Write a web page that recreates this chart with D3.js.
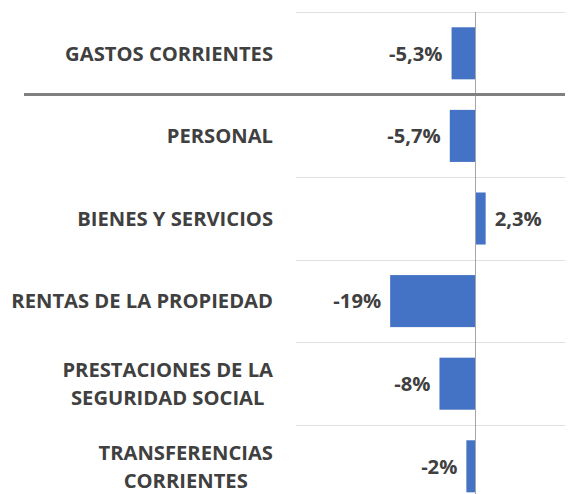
<!DOCTYPE html>
<html>
<head>
<meta charset="utf-8">
<script src="https://cdn.jsdelivr.net/npm/d3@7"></script>
<style>
html,body{margin:0;padding:0;background:#fff;}
svg{display:block;}
</style>
</head>
<body>
<svg id="chart" width="569" height="494"></svg>
<script>
const categories = [
  ["GASTOS CORRIENTES"],
  ["PERSONAL"],
  ["BIENES Y SERVICIOS"],
  ["RENTAS DE LA PROPIEDAD"],
  ["PRESTACIONES DE LA", "SEGURIDAD SOCIAL"],
  ["TRANSFERENCIAS", "CORRIENTES"]
];
const values = [-5.3, -5.7, 2.3, -19, -8, -2];
const valueLabels = ["-5,3%", "-5,7%", "2,3%", "-19%", "-8%", "-2%"];
const xDomain = [-40, 20];

const svg = d3.select("#chart");
const font = "'Open Sans', sans-serif";
const textColor = "#404040";
const fs = 20.2;

const ids = categories.map((c, i) => i);
const x = d3.scaleLinear().domain(xDomain).range([296, 565]);
const y = d3.scaleBand().domain(ids).range([12, 12 + 6 * 82.6])
  .paddingInner(0.37).paddingOuter(0.185);
const step = y.step();
const off = step * 0.37 / 2;

// light gridlines (category separators)
const bounds = ids.map(i => y(i) - off);
svg.append("g").selectAll("line").data(bounds.filter((b, i) => i !== 1))
  .join("line")
  .attr("x1", 296).attr("x2", 565)
  .attr("y1", d => Math.round(d) + 0.5).attr("y2", d => Math.round(d) + 0.5)
  .attr("stroke", "#e0e0e0").attr("stroke-width", 1);

// bars
svg.append("g").selectAll("rect").data(ids).join("rect")
  .attr("x", i => x(Math.min(0, values[i])))
  .attr("width", i => Math.abs(x(values[i]) - x(0)))
  .attr("y", i => y(i))
  .attr("height", y.bandwidth())
  .attr("fill", "#4472c4");

// zero axis
svg.append("line")
  .attr("x1", Math.round(x(0)) + 0.5).attr("x2", Math.round(x(0)) + 0.5)
  .attr("y1", 12).attr("y2", 12 + 6 * 82.6)
  .attr("stroke", "#a6a6a6").attr("stroke-width", 1);

// thick separator after total
svg.append("line")
  .attr("x1", 24).attr("x2", 565)
  .attr("y1", bounds[1]).attr("y2", bounds[1])
  .attr("stroke", "#808080").attr("stroke-width", 3);

// value labels
svg.append("g").selectAll("text").data(ids).join("text")
  .attr("x", i => values[i] < 0 ? x(values[i]) - 9 : x(values[i]) + 9)
  .attr("y", i => y(i) + y.bandwidth() / 2)
  .attr("dy", "0.36em")
  .attr("text-anchor", i => values[i] < 0 ? "end" : "start")
  .attr("font-family", font).attr("font-weight", 700).attr("font-size", fs)
  .attr("fill", textColor)
  .text(i => valueLabels[i]);

// category labels
const lineH = 28;
const rightEdge = 273;
const cg = svg.append("g");
ids.forEach(i => {
  const lines = categories[i];
  const g = cg.append("g");
  const cy = y(i) + y.bandwidth() / 2;
  const texts = lines.map((ln, k) => g.append("text")
    .attr("y", cy + (k - (lines.length - 1) / 2) * lineH)
    .attr("dy", "0.36em")
    .attr("font-family", font).attr("font-weight", 700).attr("font-size", fs)
    .attr("fill", textColor)
    .attr("text-anchor", "middle")
    .text(ln));
  const w = d3.max(texts, t => t.node().getComputedTextLength());
  texts.forEach(t => t.attr("x", rightEdge - w / 2));
});
</script>
</body>
</html>
